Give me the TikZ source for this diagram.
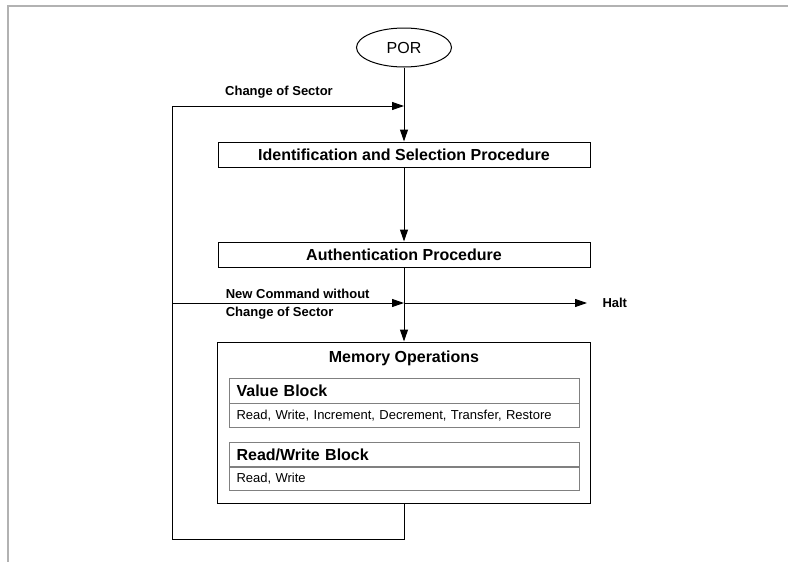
\documentclass[tikz,border=0pt]{standalone}
\usepackage{fontspec}
\setmainfont{Liberation Sans}
\usetikzlibrary{arrows.meta,shapes.geometric}

\begin{document}
\begin{tikzpicture}[x=1pt,y=-1pt,line width=1pt,
  proc/.style={draw,minimum width=372pt,minimum height=25pt,inner sep=0pt,font=\fontsize{16}{18}\selectfont\bfseries},
  lab/.style={font=\fontsize{13}{18}\selectfont\bfseries},
  blkhead/.style={draw=gray,line width=1.2pt,anchor=north west,minimum height=25pt,text width=336pt,inner xsep=7pt,inner ysep=0pt,align=left,font=\fontsize{16}{18}\selectfont\bfseries},
  blkrow/.style={blkhead,minimum height=24pt,font=\fontsize{13}{15}\selectfont},
  arr/.style={-{Triangle[length=12pt,width=8pt]}}]

\useasboundingbox (0,0) rectangle (788,562);
\draw[gray!60,line width=2.5pt] (8,562) -- (8,6) -- (788,6);

\node[draw,ellipse,minimum width=95pt,minimum height=39pt,inner sep=0pt,font=\fontsize{16}{18}\selectfont] (por) at (404,47.5) {POR};

\node[proc] (ident) at (404,154.5) {Identification and Selection Procedure};
\node[proc] (auth) at (404,254.5) {Authentication Procedure};

\node[draw,minimum width=373pt,minimum height=161pt,inner sep=0pt] (mem) at (404,422.5) {};
\node[font=\fontsize{16}{18}\selectfont\bfseries] (memlab) at (404,358) {Memory Operations};

\node[blkhead] (valhead) at (229,378) {Value Block};
\node[blkrow] (valrow) at (229,403) {Read, Write, Increment, Decrement, Transfer, Restore};
\node[blkhead] (rwhead) at (229,442) {Read/Write Block};
\node[blkrow] (rwrow) at (229,466) {Read, Write};

\coordinate (loopbot) at (172,539);
\coordinate (looptop) at (172,106);
\coordinate (sector) at (404,106);
\coordinate (loopmid) at (172,303);
\coordinate (cross) at (404,303);

\node[lab] (chg) at (279,92) {Change of Sector};
\node[lab,align=left,anchor=west] (newcmd) at (222,304) {New Command without\\Change of Sector};
\node[lab,anchor=west,inner xsep=15pt] (halt) at (587,303) {Halt};

\draw[arr] (por) -- (ident);
\draw[arr] (ident) -- (auth);
\draw[arr] (auth) -- (mem);
\draw[arr] (mem.south) |- (loopbot) -- (looptop) -- (sector);
\draw[arr] (loopmid) -- (cross);
\draw[arr] (cross) -- (halt.west);
\end{tikzpicture}
\end{document}
